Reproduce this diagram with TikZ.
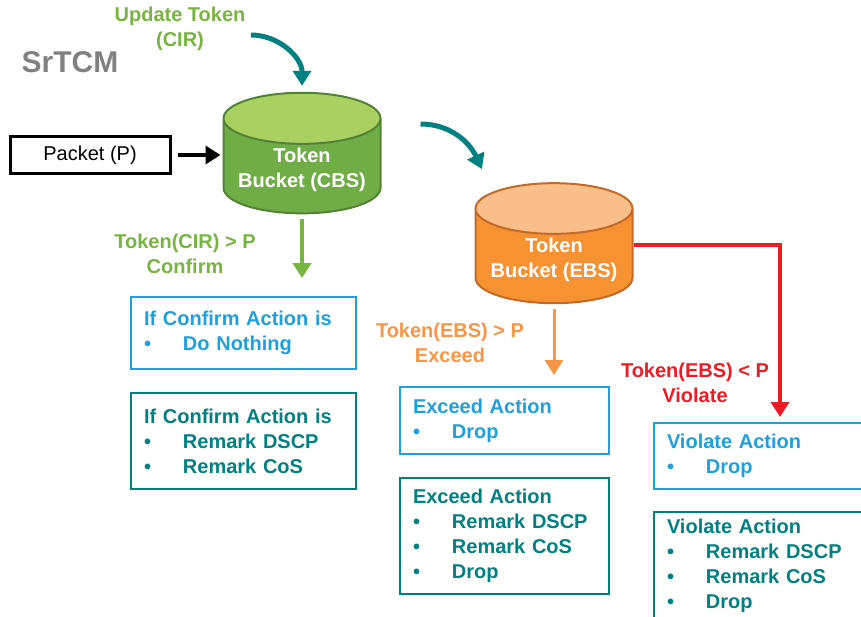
\documentclass[tikz,border=0pt]{standalone}
\usepackage{fontspec}
\setmainfont{Liberation Sans}
\usetikzlibrary{arrows.meta,positioning,calc,shapes.geometric}
\definecolor{mygreen}{RGB}{112,173,71}
\definecolor{mylime}{RGB}{170,208,98}
\definecolor{mydkgreen}{RGB}{84,130,53}
\definecolor{mytextgreen}{RGB}{120,180,64}
\definecolor{myorange}{RGB}{246,146,50}
\definecolor{mypeach}{RGB}{250,190,138}
\definecolor{mydkorange}{RGB}{196,106,40}
\definecolor{mytextorange}{RGB}{246,150,70}
\definecolor{myteal}{RGB}{0,128,128}
\definecolor{myblue}{RGB}{30,160,220}
\definecolor{myred}{RGB}{237,28,36}
\definecolor{mygray}{RGB}{128,128,128}
\newcommand{\itm}[1]{\makebox[39pt][l]{\textbullet}#1}

\begin{document}
\begin{tikzpicture}[x=1pt, y=1pt,
  every node/.style={font=\fontsize{20}{25}\selectfont\bfseries, align=center},
  bucket/.style={cylinder, shape border rotate=90, draw, line width=2pt, aspect=0.38,
    cylinder uses custom fill, minimum width=157pt, minimum height=98pt, text=white},
  actbox/.style={rectangle, draw, line width=2.5pt, align=left, inner xsep=13pt, outer sep=0pt},
  bluebox/.style={actbox, draw=myblue, text=myblue},
  tealbox/.style={actbox, draw=myteal, text=myteal},
  arr/.style={-{Triangle[length=15pt, width=18pt]}, line width=4pt}
]
\useasboundingbox (0,0) rectangle (861,-616);

\node[text=mygray, font=\fontsize{30}{30}\selectfont\bfseries] (title) at (70,-62) {SrTCM};
\node[text=mytextgreen] (upd) at (180,-29) {Update Token\\(CIR)};
\node[draw, line width=3pt, font=\fontsize{20}{25}\selectfont, minimum width=160pt, minimum height=37pt] (pkt) at (90,-155) {Packet (P)};

\node[bucket, draw=mydkgreen, cylinder body fill=mygreen, cylinder end fill=mylime] (cbs) at (302,-170) {Token\\Bucket (CBS)};
\node[bucket, draw=mydkorange, cylinder body fill=myorange, cylinder end fill=mypeach] (ebs) at (554,-260) {Token\\Bucket (EBS)};

\node[text=mytextgreen] (cirok) at (185,-254) {Token(CIR) > P\\Confirm};
\node[text=mytextorange] (ebsok) at (450,-343) {Token(EBS) > P\\Exceed};
\node[text=myred] (ebsno) at (695,-383) {Token(EBS) < P\\Violate};

\node[bluebox, minimum width=225pt, minimum height=72pt, text width=199pt] (conf1) at (243.5,-333) {If Confirm Action is\\\itm{Do Nothing}};
\node[tealbox, minimum width=225pt, minimum height=96pt, text width=199pt, below=24pt of conf1] (conf2) {If Confirm Action is\\\itm{Remark DSCP}\\\itm{Remark CoS}};

\node[bluebox, minimum width=209pt, minimum height=67pt, text width=183pt] (exc1) at (504.5,-420.5) {Exceed Action\\\itm{Drop}};
\node[tealbox, minimum width=209pt, minimum height=116pt, text width=183pt, below=24pt of exc1] (exc2) {Exceed Action\\\itm{Remark DSCP}\\\itm{Remark CoS}\\\itm{Drop}};

\node[bluebox, minimum width=216pt, minimum height=66pt, text width=190pt] (vio1) at (762,-456) {Violate Action\\\itm{Drop}};
\node[tealbox, minimum width=216pt, minimum height=108pt, text width=190pt, below=23pt of vio1] (vio2) {Violate Action\\\itm{Remark DSCP}\\\itm{Remark CoS}\\\itm{Drop}};

\draw[arr, myteal, line width=5pt] ([shift={(2,-6)}]upd.east) to[out=0, in=90] ([yshift=6pt]cbs.north);
\draw[arr, myteal, line width=5pt] ([shift={(39,46)}]cbs.east) to[out=0, in=115] ([shift={(-72,13)}]ebs.north);
\draw[arr, black] ([xshift=6pt]pkt.east) -- ([xshift=-2pt]cbs.west |- pkt.east);
\draw[arr, mytextgreen] ([yshift=-5pt]cbs.south) -- ($(cbs.south |- conf1.north)+(0,19)$);
\draw[arr, mytextorange, line width=3pt] ([yshift=-5pt]ebs.south) -- ($(ebs.south |- exc1.north)+(0,12)$);
\draw[arr, myred] ([yshift=15pt]ebs.east) -| ($(vio1.north)+(18,6)$);
\end{tikzpicture}
\end{document}
